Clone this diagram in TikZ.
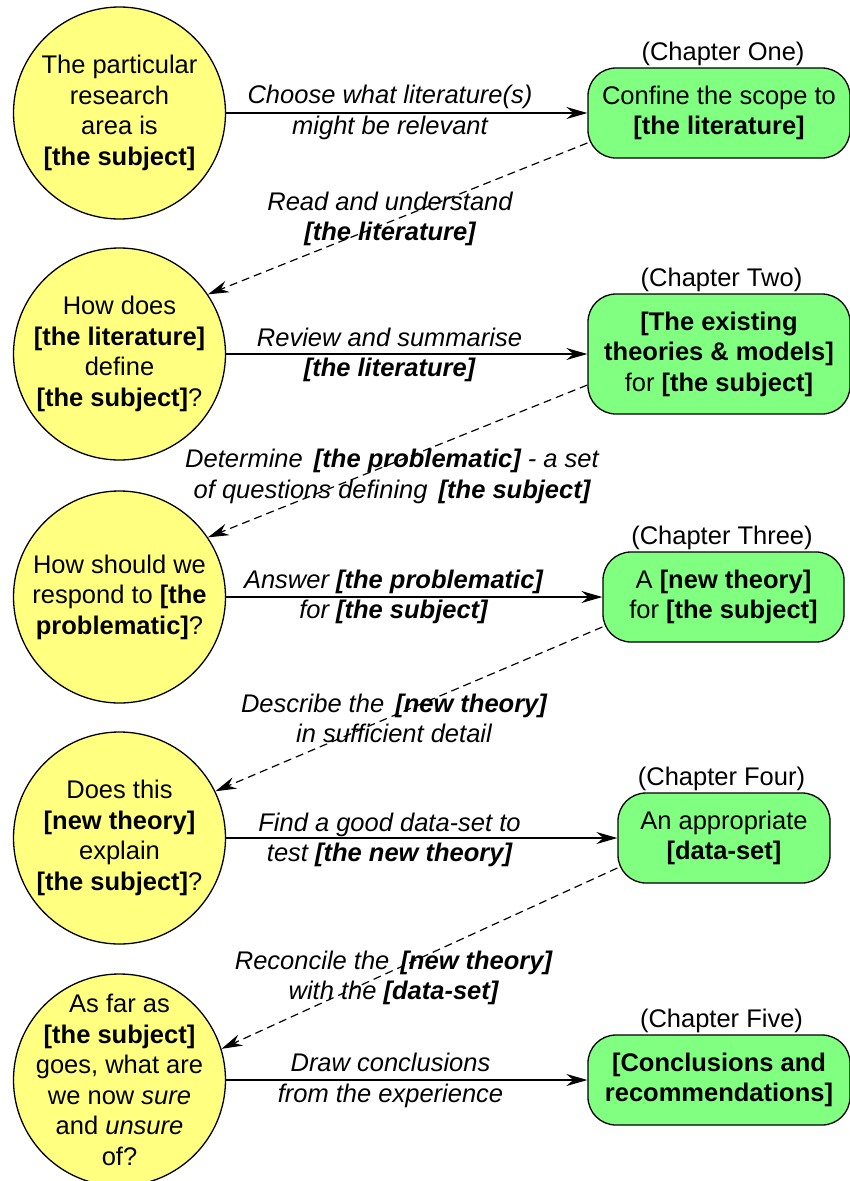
\documentclass[tikz,border=0pt]{standalone}
\usepackage{fontspec}
\setmainfont{Liberation Sans}
\usetikzlibrary{arrows.meta}
\definecolor{circfill}{RGB}{255,255,128}
\definecolor{boxfill}{RGB}{128,255,128}
\begin{document}
\begin{tikzpicture}[x=1pt,y=-1pt,
  every node/.style={font=\fontsize{25.5}{30.5}\selectfont},
  qcirc/.style={circle, draw, line width=1.3pt, fill=circfill, minimum size=212pt, inner sep=-30pt, align=center},
  chbox/.style={rectangle, rounded corners=28pt, draw, line width=1.3pt, fill=boxfill, align=center, inner sep=0pt, minimum height=90pt},
  chlabel/.style={anchor=base, inner sep=0pt},
  elabel/.style={align=center, inner sep=0pt, font=\fontsize{25.5}{30.5}\selectfont\itshape},
  flow/.style={line width=1.2pt, -{Stealth[length=21pt,width=12pt,inset=7pt]}},
  back/.style={flow, dash pattern=on 8pt off 5pt}]
\clip (0,0) rectangle (850,1181);

% circles
\node[qcirc] (c1) at (119.5,113) {The particular\\research\\area is\\\textbf{[the subject]}};
\node[qcirc] (c2) at (119.5,354) {How does\\\textbf{[the literature]}\\define\\\textbf{[the subject]}?};
\node[qcirc] (c3) at (119.5,597) {How should we\\respond to \textbf{[the}\\\textbf{problematic]}?};
\node[qcirc] (c4) at (119.5,838) {Does this\\\textbf{[new theory]}\\explain\\\textbf{[the subject]}?};
\node[qcirc] (c5) at (119.5,1080) {As far as\\\textbf{[the subject]}\\goes, what are\\we now \textit{sure}\\and \textit{unsure}\\of?};

% boxes
\node[chbox, minimum width=262pt] (b1) at (719,113) {Confine the scope to\\\textbf{[the literature]}};
\node[chbox, minimum width=262pt, minimum height=120pt] (b2) at (719,354) {\textbf{[The existing}\\\textbf{theories \& models]}\\for \textbf{[the subject]}};
\node[chbox, minimum width=241pt] (b3) at (723.5,597) {A \textbf{[new theory]}\\for \textbf{[the subject]}};
\node[chbox, minimum width=212pt] (b4) at (724,838) {An appropriate\\\textbf{[data-set]}};
\node[chbox, minimum width=262pt] (b5) at (719,1080) {\textbf{[Conclusions and}\\\textbf{recommendations]}};

% chapter labels
\node[chlabel] (h1) at (723,60) {(Chapter One)};
\node[chlabel] (h2) at (721.5,286) {(Chapter Two)};
\node[chlabel] (h3) at (722,544) {(Chapter Three)};
\node[chlabel] (h4) at (721.5,785) {(Chapter Four)};
\node[chlabel] (h5) at (721.5,1027) {(Chapter Five)};

% connectors
\draw[flow] (c1.east) -- (b1.west);
\draw[flow] (c2.east) -- (b2.west);
\draw[flow] (c3.east) -- (b3.west);
\draw[flow] (c4.east) -- (b4.west);
\draw[flow] (c5.east) -- (b5.west);
\draw[back] ([yshift=-30pt]b1.west) -- (c2.34);
\draw[back] ([yshift=-31pt]b2.west) -- (c3.34);
\draw[back] ([yshift=-30pt]b3.west) -- (c4.26);
\draw[back] ([yshift=-30pt]b4.west) -- (c5.17);

% connector labels
\node[elabel] (l1) at (390,112.5) {Choose what literature(s)\\might be relevant};
\node[elabel] (l2) at (390,219) {Read and understand\\\textbf{[the literature]}};
\node[elabel] (l3) at (389.5,355) {Review and summarise\\\textbf{[the literature]}};
\node[elabel] (l4) at (392,476.5) {Determine\hspace{4pt} \textbf{[the problematic]} - a set\\of questions defining\hspace{4pt} \textbf{[the subject]}};
\node[elabel] (l5) at (393.5,597) {Answer \textbf{[the problematic]}\\for \textbf{[the subject]}};
\node[elabel] (l6) at (394,718.5) {Describe the\hspace{4pt} \textbf{[new theory]}\\in sufficient detail};
\node[elabel] (l7) at (389.5,840) {Find a good data-set to\\test \textbf{[the new theory]}};
\node[elabel] (l8) at (393.5,978) {Reconcile the\hspace{4pt} \textbf{[new theory]}\\with the \textbf{[data-set]}};
\node[elabel] (l9) at (390.5,1080.5) {Draw conclusions\\from the experience};
\end{tikzpicture}
\end{document}
